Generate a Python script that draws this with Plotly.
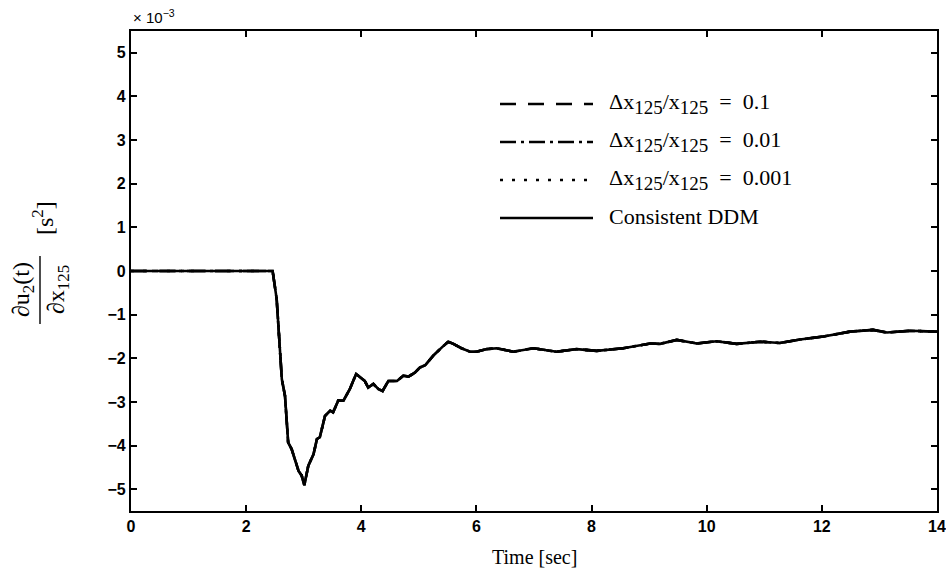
import plotly.graph_objects as go

# ---------------- data (values in units of 1e-3 s^2) ----------------
time_sec = [0, 2.46, 2.53, 2.59, 2.62, 2.675, 2.73, 2.79, 2.85, 2.91,
            2.965, 3.01, 3.08, 3.17, 3.23, 3.28, 3.37, 3.46, 3.51, 3.6,
            3.69, 3.80, 3.91, 3.98, 4.06, 4.12, 4.21, 4.30, 4.37, 4.47,
            4.62, 4.73, 4.82, 4.93, 5.02, 5.11, 5.25, 5.40, 5.51, 5.6,
            5.74, 5.89, 6.0, 6.18, 6.35, 6.64, 6.99, 7.39, 7.74, 8.09,
            8.55, 9.02, 9.19, 9.48, 9.83, 10.17, 10.52, 10.93, 11.27, 11.62,
            12.03, 12.49, 12.89, 13.13, 13.53, 14.0]

consistent_ddm = [0, 0, -0.64, -1.79, -2.48, -2.86, -3.93, -4.08, -4.31, -4.58,
                  -4.69, -4.91, -4.46, -4.2, -3.85, -3.81, -3.32, -3.2, -3.24, -2.97,
                  -2.97, -2.71, -2.36, -2.44, -2.52, -2.67, -2.59, -2.71, -2.75, -2.52,
                  -2.52, -2.40, -2.42, -2.33, -2.21, -2.16, -1.94, -1.75, -1.62, -1.67,
                  -1.77, -1.85, -1.85, -1.79, -1.77, -1.85, -1.77, -1.85, -1.79, -1.83,
                  -1.77, -1.66, -1.67, -1.58, -1.66, -1.61, -1.67, -1.62, -1.65, -1.57,
                  -1.50, -1.39, -1.35, -1.41, -1.37, -1.39]

# finite-difference curves coincide with the DDM curve in the picture
fd_01 = list(consistent_ddm)
fd_001 = list(consistent_ddm)
fd_0001 = list(consistent_ddm)

x_ticks = [0, 2, 4, 6, 8, 10, 12, 14]
y_ticks = [-5, -4, -3, -2, -1, 0, 1, 2, 3, 4, 5]

SUB = '<sub><span style="font-size:19px">125</span></sub>'
EQ = "\u00a0\u00a0=\u00a0\u00a0"
legend_labels = ["Δx" + SUB + "/x" + SUB + EQ + "0.1",
                 "Δx" + SUB + "/x" + SUB + EQ + "0.01",
                 "Δx" + SUB + "/x" + SUB + EQ + "0.001",
                 "Consistent DDM"]
legend_dashes = ["16px,12px", "16px,5px,3px,5px", "3px,9px", "solid"]
x_title = "Time [sec]"

# ---------------- layout geometry ----------------
W, H = 946, 573
L, R, T, B = 131, 937, 31, 511


def px(xp):
    return (xp - L) / (R - L)


def py(yp):
    return (B - yp) / (B - T)


serif = "Liberation Serif, Times New Roman, serif"
sans = "Liberation Sans, Arial, sans-serif"

fig = go.Figure()
series = [fd_01, fd_001, fd_0001, consistent_ddm]
for vals, dash in zip(series, legend_dashes):
    fig.add_trace(go.Scatter(x=time_sec, y=vals, mode="lines",
                             line=dict(color="black", width=2.6, dash=dash),
                             showlegend=False, hoverinfo="skip"))

shapes = []
annotations = []

# manual legend
row_y = [104, 142, 180, 218]
for yy, lab, dash in zip(row_y, legend_labels, legend_dashes):
    shapes.append(dict(type="line", xref="paper", yref="paper",
                       x0=px(500), x1=px(593), y0=py(yy), y1=py(yy),
                       line=dict(color="black", width=2.6, dash=dash)))
    annotations.append(dict(xref="paper", yref="paper", x=px(607), y=py(yy - 1),
                            xanchor="left", yanchor="middle", showarrow=False,
                            text=lab, font=dict(family=serif, size=22, color="black")))

# exponent label
annotations.append(dict(xref="paper", yref="paper", x=px(131), y=py(28),
                        xanchor="left", yanchor="bottom", showarrow=False,
                        text="× 10<sup>−3</sup>",
                        font=dict(family=sans, size=15, color="black")))

# x-axis title
annotations.append(dict(xref="paper", yref="paper", x=0.5, y=py(557),
                        xanchor="center", yanchor="middle", showarrow=False,
                        text=x_title, font=dict(family=serif, size=20, color="black")))

# y-axis title as a rotated fraction
annotations.append(dict(xref="paper", yref="paper", x=px(23), y=py(290),
                        xanchor="center", yanchor="middle", showarrow=False,
                        textangle=-90, text="∂u<sub>2</sub>(t)",
                        font=dict(family=serif, size=24, color="black")))
annotations.append(dict(xref="paper", yref="paper", x=px(58), y=py(290),
                        xanchor="center", yanchor="middle", showarrow=False,
                        textangle=-90, text="∂x<sub>125</sub>",
                        font=dict(family=serif, size=24, color="black")))
shapes.append(dict(type="line", xref="paper", yref="paper",
                   x0=px(40), x1=px(40), y0=py(256), y1=py(324),
                   line=dict(color="black", width=1.4)))
annotations.append(dict(xref="paper", yref="paper", x=px(43), y=py(218),
                        xanchor="center", yanchor="middle", showarrow=False,
                        textangle=-90, text="[s<sup>2</sup>]",
                        font=dict(family=serif, size=24, color="black")))

fig.update_layout(
    width=W, height=H,
    margin=dict(l=L, r=W - R, t=T, b=H - B, autoexpand=False),
    paper_bgcolor="white", plot_bgcolor="white",
    shapes=shapes, annotations=annotations,
    xaxis=dict(range=[0, 14], tickvals=x_ticks, ticktext=[str(v) for v in x_ticks],
               automargin=False,
               showgrid=False, zeroline=False, showline=True, linecolor="black",
               linewidth=2.2, mirror="ticks", ticks="inside", ticklen=6,
               tickwidth=2, tickcolor="black",
               tickfont=dict(family=sans, size=16, color="black", weight="bold")),
    yaxis=dict(range=[-5.5, 5.5], tickvals=y_ticks, automargin=False,
               ticktext=[("−" + str(-v)) if v < 0 else str(v) for v in y_ticks],
               showgrid=False, zeroline=False, showline=True, linecolor="black",
               linewidth=2.2, mirror="ticks", ticks="inside", ticklen=6,
               tickwidth=2, tickcolor="black",
               tickfont=dict(family=sans, size=16, color="black", weight="bold")),
)

fig.write_html("out.html")
